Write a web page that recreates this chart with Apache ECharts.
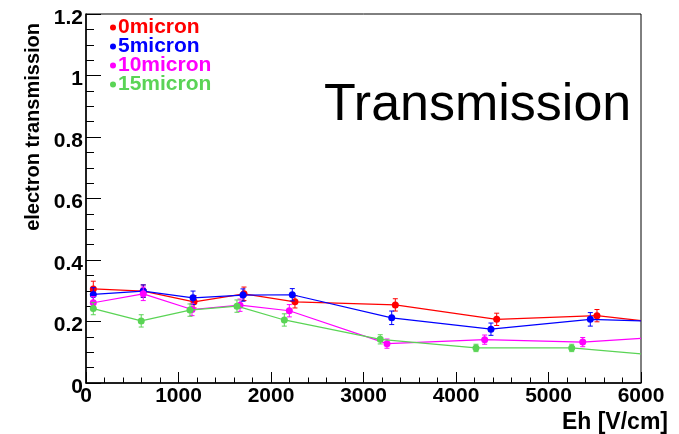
<!DOCTYPE html>
<html>
<head>
<meta charset="utf-8">
<script src="https://cdn.jsdelivr.net/npm/echarts@6/dist/echarts.min.js"></script>
<style>html,body{margin:0;padding:0;background:#fff}#c{width:679px;height:434px}</style>
</head>
<body>
<div id="c"></div>
<script>
// ---- data (last point of each series = line continuation to the frame edge, no marker) ----
const seriesNames = ['0micron', '5micron', '10micron', '15micron'];
const seriesColors = ['#ff0000', '#0000ff', '#ff00ff', '#5ad455'];

const eh0 = [79, 619, 1168, 1708, 2259, 3344, 4440, 5524, 6000];
const tr0 = [0.306, 0.299, 0.264, 0.290, 0.264, 0.254, 0.207, 0.219, 0.203];
const er0 = [0.025, 0.02, 0.02, 0.022, 0.02, 0.02, 0.02, 0.02];

const eh5 = [79, 619, 1157, 1697, 2230, 3305, 4378, 5452, 6000];
const tr5 = [0.288, 0.299, 0.277, 0.286, 0.287, 0.212, 0.175, 0.207, 0.202];
const er5 = [0.022, 0.02, 0.022, 0.02, 0.02, 0.022, 0.02, 0.022];

const eh10 = [79, 619, 1146, 1665, 2198, 3254, 4310, 5370, 6000];
const tr10 = [0.261, 0.290, 0.239, 0.253, 0.235, 0.128, 0.141, 0.133, 0.145];
const er10 = [0.02, 0.022, 0.02, 0.02, 0.02, 0.015, 0.015, 0.015];

const eh15 = [79, 597, 1124, 1632, 2144, 3181, 4216, 5251, 6000];
const tr15 = [0.242, 0.202, 0.237, 0.250, 0.205, 0.142, 0.114, 0.114, 0.095];
const er15 = [0.02, 0.02, 0.02, 0.02, 0.02, 0.015, 0.012, 0.012];

const xTicks = { min: 0, max: 6000, interval: 1000 };
const yTicks = { min: 0, max: 1.2, interval: 0.2 };

const allEh = [eh0, eh5, eh10, eh15];
const allTr = [tr0, tr5, tr10, tr15];
const allEr = [er0, er5, er10, er15];

const FONT = 'Liberation Sans, Arial, Helvetica, sans-serif';

const chart = echarts.init(document.getElementById('c'));

const series = [];
seriesNames.forEach((name, i) => {
  const xs = allEh[i], ys = allTr[i];
  const last = xs.length - 1;
  series.push({
    name: name,
    type: 'line',
    data: xs.map((x, k) => [x, ys[k]]),
    symbol: (v, p) => (p.dataIndex === last ? 'none' : 'circle'),
    symbolSize: 7,
    showAllSymbol: true,
    lineStyle: { color: seriesColors[i], width: 1.2 },
    itemStyle: { color: seriesColors[i], borderWidth: 0 },
    z: 3 + i,
    animation: false,
    clip: true
  });
  series.push({
    name: name,
    type: 'custom',
    data: allEr[i].map((e, k) => [xs[k], ys[k], e]),
    renderItem: (params, api) => {
      const x = api.value(0), y = api.value(1), e = api.value(2);
      const lo = api.coord([x, y - e]);
      const hi = api.coord([x, y + e]);
      const st = { stroke: seriesColors[i], lineWidth: 1 };
      return {
        type: 'group',
        children: [
          { type: 'line', shape: { x1: lo[0], y1: lo[1], x2: hi[0], y2: hi[1] }, style: st },
          { type: 'line', shape: { x1: lo[0] - 2.5, y1: lo[1], x2: lo[0] + 2.5, y2: lo[1] }, style: st },
          { type: 'line', shape: { x1: hi[0] - 2.5, y1: hi[1], x2: hi[0] + 2.5, y2: hi[1] }, style: st }
        ]
      };
    },
    z: 3 + i,
    animation: false
  });
});

chart.setOption({
  animation: false,
  backgroundColor: '#fff',
  title: {
    text: 'Transmission',
    left: 324, top: 80, padding: 0,
    textStyle: { fontFamily: FONT, fontSize: 52, fontWeight: 'normal', color: '#000' }
  },
  legend: {
    orient: 'vertical',
    left: 110, top: 17, padding: 0,
    itemGap: -2,
    itemWidth: 6, itemHeight: 6,
    icon: 'circle',
    selectedMode: false,
    data: seriesNames.map((n, i) => ({ name: n, textStyle: { color: seriesColors[i] } })),
    textStyle: { fontFamily: FONT, fontSize: 21, fontWeight: 'bold', padding: [0, 0, 0, -3] }
  },
  grid: {
    left: 86, right: 38, top: 14, bottom: 47,
    show: true, borderColor: '#000', borderWidth: 1, backgroundColor: '#fff'
  },
  xAxis: {
    type: 'value',
    min: xTicks.min, max: xTicks.max, interval: xTicks.interval,
    name: 'Eh [V/cm]',
    nameLocation: 'end',
    nameGap: 27,
    nameTextStyle: { fontFamily: FONT, fontSize: 23, fontWeight: 'bold', color: '#000', align: 'right', verticalAlign: 'top', padding: [28, 0, 0, 0] },
    axisLine: { show: true, lineStyle: { color: '#000', width: 1.5 } },
    axisTick: { show: true, inside: true, length: 11, lineStyle: { color: '#000' } },
    minorTick: { show: true, splitNumber: 5, length: 5.5, lineStyle: { color: '#000' } },
    splitLine: { show: false },
    axisLabel: { fontFamily: FONT, fontSize: 21, fontWeight: 'bold', color: '#000', margin: 3, formatter: v => String(v) }
  },
  yAxis: {
    type: 'value',
    min: yTicks.min, max: yTicks.max, interval: yTicks.interval,
    axisLine: { show: true, lineStyle: { color: '#000', width: 1.5 } },
    axisTick: { show: true, inside: true, length: 15, lineStyle: { color: '#000' } },
    minorTick: { show: true, splitNumber: 4, length: 8, lineStyle: { color: '#000' } },
    splitLine: { show: false },
    axisLabel: {
      fontFamily: FONT, fontSize: 21, fontWeight: 'bold', color: '#000', margin: 3,
      formatter: v => '{a|' + String(Math.round(v * 10) / 10) + '}',
      rich: { a: { fontFamily: FONT, fontSize: 21, fontWeight: 'bold', color: '#000', padding: [8, 0, 0, 0] } }
    }
  },
  graphic: [{
    type: 'text',
    x: 33, y: 23,
    rotation: Math.PI / 2,
    style: { text: 'electron transmission', fontFamily: FONT, fontSize: 20, fontWeight: 'bold', fill: '#000', align: 'right', verticalAlign: 'middle' }
  }],
  series: series
});
</script>
</body>
</html>
